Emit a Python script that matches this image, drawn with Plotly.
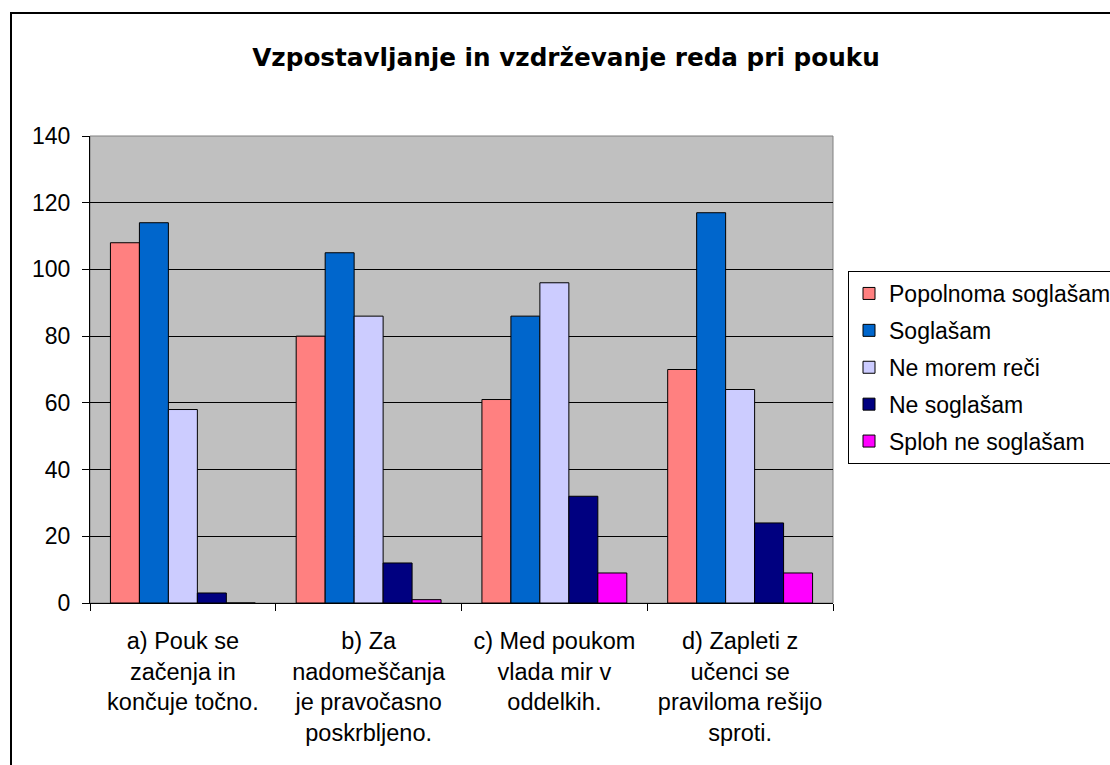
import plotly.graph_objects as go

categories = [
    "a) Pouk se<br>začenja in<br>končuje točno.",
    "b) Za<br>nadomeščanja<br>je pravočasno<br>poskrbljeno.",
    "c) Med poukom<br>vlada mir v<br>oddelkih.",
    "d) Zapleti z<br>učenci se<br>praviloma rešijo<br>sproti.",
]
cat_keys = ["a", "b", "c", "d"]

series_names = ["Popolnoma soglašam", "Soglašam", "Ne morem reči", "Ne soglašam", "Sploh ne soglašam"]
popolnoma = [108, 80, 61, 70]
soglasam = [114, 105, 86, 117]
ne_morem = [58, 86, 96, 64]
ne_soglasam = [3, 12, 32, 24]
sploh_ne = [0, 1, 9, 9]
series_values = [popolnoma, soglasam, ne_morem, ne_soglasam, sploh_ne]
colors = ["#FF8080", "#0066CC", "#CCCCFF", "#000080", "#FF00FF"]

title = "Vzpostavljanje in vzdrževanje reda pri pouku"
y_ticks = [0, 20, 40, 60, 80, 100, 120, 140]

FONT = "Arial, Liberation Sans, sans-serif"
TFONT = "DejaVu Sans, Verdana, sans-serif"

fig = go.Figure()
for name, vals, col in zip(series_names, series_values, colors):
    fig.add_trace(go.Bar(
        x=cat_keys, y=vals, name=name, legendgroup=name,
        marker=dict(color=col, line=dict(color="black", width=1)),
    ))

W, H = 1110, 765
L, R, T, B = 90, 833, 136, 603
pw, ph = R - L, B - T

fig.update_layout(
    width=W, height=H,
    margin=dict(l=L, r=W - R, t=T, b=H - B, autoexpand=False),
    paper_bgcolor="white",
    plot_bgcolor="#C0C0C0",
    barmode="group",
    bargap=0.22,
    bargroupgap=0,
    font=dict(family=FONT, size=23, color="black"),
    title=dict(text="<b>" + title + "</b>", x=566 / W, xanchor="center",
               y=1 - 57 / H, yanchor="middle",
               font=dict(family=TFONT, size=24.7, color="black")),
    showlegend=True,
    legend=dict(
        x=(848 - L) / pw, xanchor="left",
        y=(B - 271) / ph, yanchor="top",
        bordercolor="black", borderwidth=1, bgcolor="white",
        font=dict(family=FONT, size=23, color="black"),
        tracegroupgap=4, traceorder="grouped",
    ),
    xaxis=dict(
        type="category",
        tickmode="array", tickvals=cat_keys, ticktext=categories,
        tickson="boundaries", ticks="outside", ticklen=7, tickcolor="black",
        showline=True, linecolor="black", linewidth=1,
        showgrid=False, range=[-0.5, 3.5],
        ticklabelstandoff=17,
        tickfont=dict(family=FONT, size=23.5, color="black"),
    ),
    yaxis=dict(
        range=[0, 140], tickmode="array", tickvals=y_ticks,
        ticks="outside", ticklen=7, tickcolor="black",
        showline=True, linecolor="black", linewidth=1,
        showgrid=True, gridcolor="black", gridwidth=1,
        zeroline=False,
        ticklabelstandoff=7,
        tickfont=dict(family=FONT, size=23, color="black"),
    ),
    shapes=[
        dict(type="rect", xref="paper", yref="paper", x0=0, x1=1, y0=0, y1=1,
             line=dict(color="#808080", width=1), layer="below"),
        dict(type="rect", xref="paper", yref="paper",
             x0=(11 - L) / pw, x1=(W + 5 - L) / pw,
             y0=(B - (H + 5)) / ph, y1=(B - 13) / ph,
             line=dict(color="black", width=2), layer="above"),
    ],
)

fig.write_html("out.html", config={"displayModeBar": False},
               post_script="document.body.style.margin='0';")
